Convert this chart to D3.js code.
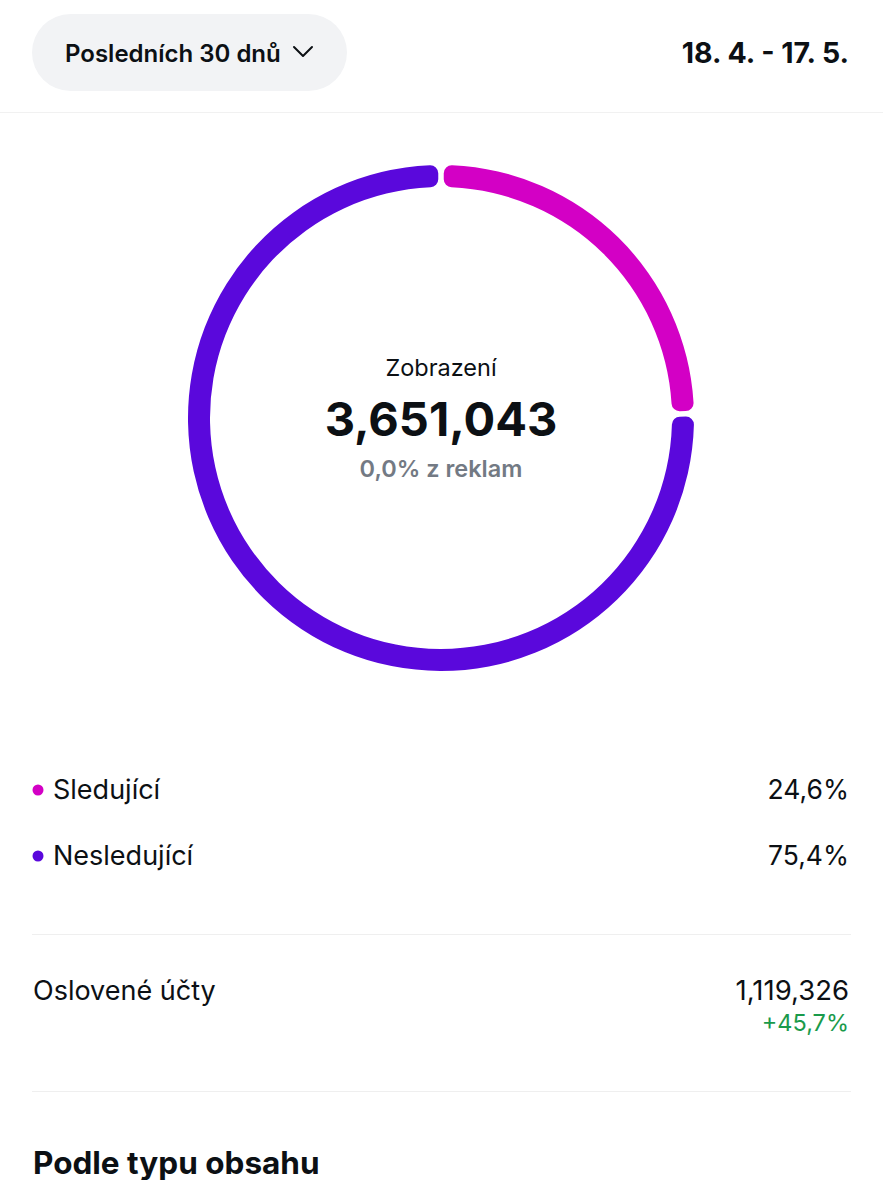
<!DOCTYPE html>
<html>
<head>
<meta charset="utf-8">
<script src="https://cdn.jsdelivr.net/npm/d3@7"></script>
<style>
  body { margin: 0; background: #fff; }
  svg { display: block; font-family: Inter, "Noto Sans", sans-serif; }
</style>
</head>
<body>
<svg id="chart" width="883" height="1180"></svg>
<script>
"use strict";

var categories = ["Sledující", "Nesledující"];
var shares = [24.6, 75.4];
var shareLabels = ["24,6%", "75,4%"];
var colors = ["#d300c5", "#5a08dc"];

var periodLabel = "Posledních 30 dnů";
var dateRange = "18. 4. - 17. 5.";
var totalLabel = "Zobrazení";
var totalValue = "3,651,043";
var adsLabel = "0,0% z reklam";
var reachLabel = "Oslovené účty";
var reachValue = "1,119,326";
var reachChange = "+45,7%";
var nextHeading = "Podle typu obsahu";

var svg = d3.select("#chart");
var W = 883;

// header
svg.append("rect")
    .attr("x", 32).attr("y", 14)
    .attr("width", 315).attr("height", 77)
    .attr("rx", 38.5)
    .attr("fill", "#f2f3f5");

svg.append("text")
    .attr("x", 65).attr("y", 62)
    .attr("font-size", 24).attr("font-weight", 600)
    .attr("fill", "#0c1014")
    .text(periodLabel);

svg.append("path")
    .attr("d", "M294,47 L303,56 L312,47")
    .attr("fill", "none")
    .attr("stroke", "#0c1014")
    .attr("stroke-width", 2)
    .attr("stroke-linecap", "round")
    .attr("stroke-linejoin", "round");

svg.append("text")
    .attr("x", 849).attr("y", 63)
    .attr("text-anchor", "end")
    .attr("font-size", 28.5).attr("font-weight", 700)
    .attr("fill", "#0c1014")
    .text(dateRange);

svg.append("line")
    .attr("x1", 0).attr("x2", W)
    .attr("y1", 112.5).attr("y2", 112.5)
    .attr("stroke", "#f1f1f1");

// donut
var cx = 441, cy = 418;
var pie = d3.pie().sort(null).padAngle(0.016);
var arc = d3.arc()
    .innerRadius(231)
    .outerRadius(253)
    .cornerRadius(8);

svg.append("g")
    .attr("transform", "translate(" + cx + "," + cy + ")")
  .selectAll("path")
  .data(pie(shares))
  .join("path")
    .attr("d", arc)
    .attr("fill", function (d, i) { return colors[i]; });

svg.append("text")
    .attr("x", cx).attr("y", 376)
    .attr("text-anchor", "middle")
    .attr("font-size", 23.5)
    .attr("fill", "#0c1014")
    .text(totalLabel);

svg.append("text")
    .attr("x", cx).attr("y", 436)
    .attr("text-anchor", "middle")
    .attr("font-size", 47).attr("font-weight", 700)
    .attr("fill", "#0c1014")
    .text(totalValue);

svg.append("text")
    .attr("x", cx).attr("y", 477)
    .attr("text-anchor", "middle")
    .attr("font-size", 23.5).attr("font-weight", 600)
    .attr("fill", "#737a84")
    .text(adsLabel);

// legend
var rowY = d3.scalePoint()
    .domain(categories)
    .range([799, 865]);

var rows = svg.append("g")
  .selectAll("g")
  .data(categories)
  .join("g")
    .attr("transform", function (d) { return "translate(0," + rowY(d) + ")"; });

rows.append("circle")
    .attr("cx", 38).attr("cy", -9)
    .attr("r", 5.5)
    .attr("fill", function (d, i) { return colors[i]; });

rows.append("text")
    .attr("x", 53)
    .attr("font-size", 27)
    .attr("fill", "#0c1014")
    .text(function (d) { return d; });

rows.append("text")
    .attr("x", 849)
    .attr("text-anchor", "end")
    .attr("font-size", 26.5)
    .attr("fill", "#0c1014")
    .text(function (d, i) { return shareLabels[i]; });

// reach
svg.append("line")
    .attr("x1", 32).attr("x2", 851)
    .attr("y1", 934.5).attr("y2", 934.5)
    .attr("stroke", "#efefef");

svg.append("text")
    .attr("x", 33).attr("y", 1000)
    .attr("font-size", 27)
    .attr("fill", "#0c1014")
    .text(reachLabel);

svg.append("text")
    .attr("x", 849).attr("y", 1000)
    .attr("text-anchor", "end")
    .attr("font-size", 27.5)
    .attr("fill", "#0c1014")
    .text(reachValue);

svg.append("text")
    .attr("x", 849).attr("y", 1031)
    .attr("text-anchor", "end")
    .attr("font-size", 23.5)
    .attr("fill", "#1a9a4b")
    .text(reachChange);

svg.append("line")
    .attr("x1", 32).attr("x2", 851)
    .attr("y1", 1091.5).attr("y2", 1091.5)
    .attr("stroke", "#efefef");

svg.append("text")
    .attr("x", 33).attr("y", 1174)
    .attr("font-size", 31.5).attr("font-weight", 700)
    .attr("fill", "#0c1014")
    .text(nextHeading);
</script>
</body>
</html>
